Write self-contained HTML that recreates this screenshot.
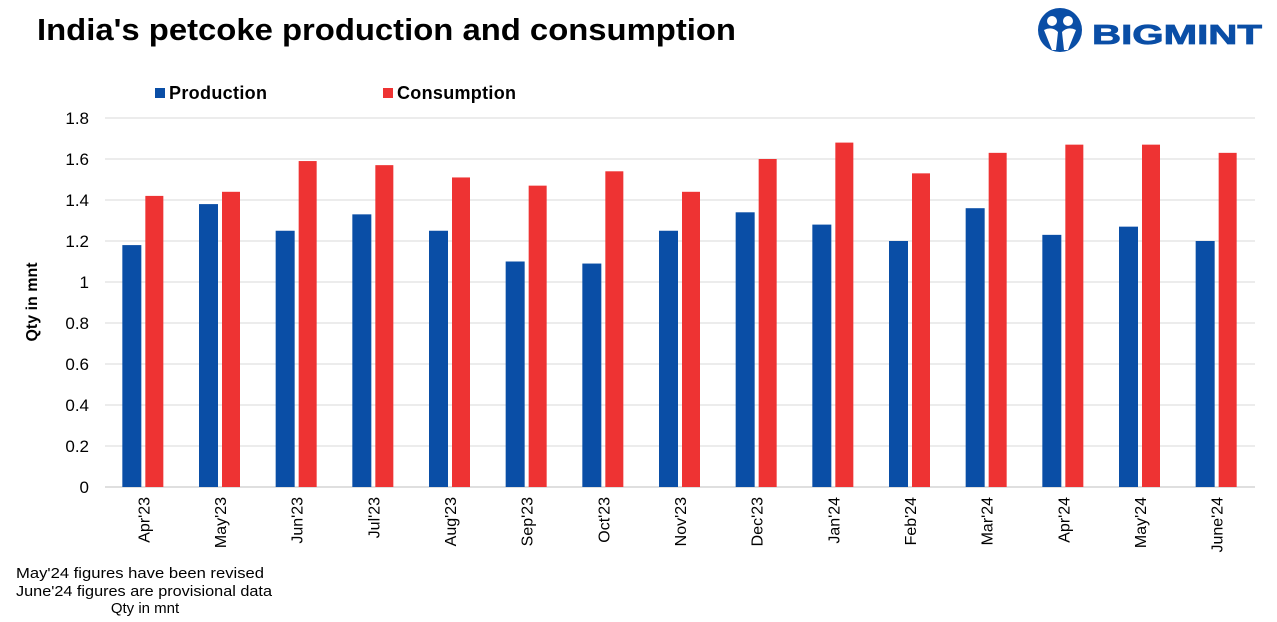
<!DOCTYPE html>
<html><head><meta charset="utf-8"><style>
body{margin:0;background:#fff;width:1277px;height:617px;overflow:hidden;font-family:"Liberation Sans",Arial,sans-serif}
</style></head><body>
<svg width="1277" height="617" xmlns="http://www.w3.org/2000/svg" font-family="Liberation Sans, Arial, sans-serif">
<text x="37" y="40" font-size="31" font-weight="bold" fill="#000" textLength="699" lengthAdjust="spacingAndGlyphs">India's petcoke production and consumption</text>
<g>
<circle cx="1060" cy="30" r="22" fill="#0a4ea6"/>
<circle cx="1052" cy="21" r="5" fill="#fff"/><circle cx="1068" cy="21" r="5" fill="#fff"/>
<path d="M1044 30 Q1052 26 1058 32 L1056 50 L1052 50 Z M1076 30 Q1068 26 1062 32 L1064 50 L1068 50 Z" fill="#fff"/>
<text x="1092" y="44" font-size="28" font-weight="900" fill="#0a4ea6" stroke="#0a4ea6" stroke-width="0.8" textLength="170" lengthAdjust="spacingAndGlyphs">BIGMINT</text>
</g>
<g>
<rect x="155" y="88" width="10" height="10" fill="#0a4ea6"/>
<text x="169" y="99" font-size="18" font-weight="bold" textLength="98">Production</text>
<rect x="383" y="88" width="10" height="10" fill="#ee3333"/>
<text x="397" y="99" font-size="18" font-weight="bold" textLength="119">Consumption</text>
</g>
<text transform="translate(37,302) rotate(-90)" text-anchor="middle" font-size="16" font-weight="bold">Qty in mnt</text>
<g id="grid"></g><g id="bars"></g><g id="labels"></g>
<g font-size="15" text-anchor="middle">
<text x="140" y="578" textLength="248" lengthAdjust="spacingAndGlyphs">May'24 figures have been revised</text>
<text x="144" y="596" textLength="256" lengthAdjust="spacingAndGlyphs">June'24 figures are provisional data</text>
<text x="145" y="613">Qty in mnt</text>
</g>
</svg>
<script>
const categories=["Apr'23","May'23","Jun'23","Jul'23","Aug'23","Sep'23","Oct'23","Nov'23","Dec'23","Jan'24","Feb'24","Mar'24","Apr'24","May'24","June'24"];
const production=[1.18,1.38,1.25,1.33,1.25,1.10,1.09,1.25,1.34,1.28,1.20,1.36,1.23,1.27,1.20];
const consumption=[1.42,1.44,1.59,1.57,1.51,1.47,1.54,1.44,1.60,1.68,1.53,1.63,1.67,1.67,1.63];
const yTicks=[0,0.2,0.4,0.6,0.8,1,1.2,1.4,1.6,1.8];
const NS="http://www.w3.org/2000/svg";
const x0=105,x1=1255,y0=487,yTop=118,yMax=1.8;
const bw=(x1-x0)/categories.length;
const y=v=>y0-(v/yMax)*(y0-yTop);
const xc=i=>x0+bw*(i+0.5);
function mk(t,a,p){const e=document.createElementNS(NS,t);for(const k in a)e.setAttribute(k,a[k]);p.appendChild(e);return e;}
const grid=document.getElementById('grid'),bars=document.getElementById('bars'),labels=document.getElementById('labels');
yTicks.forEach(v=>{
 const l=mk('line',{x1:x0,x2:x1,y1:y(v),y2:y(v),stroke:v===0?'#bfbfbf':'#d9d9d9','stroke-width':1},grid);
 
 
 const t=mk('text',{x:89,y:y(v)+6,'text-anchor':'end','font-size':17},grid);
 t.textContent=String(v);
 
 
});
categories.forEach((c,i)=>{
 const cx=xc(i);
 const p=mk('rect',{x:cx-21,y:y(production[i]),width:19,height:y0-y(production[i]),fill:'#0a4ea6'},bars);
 
 
 const q=mk('rect',{x:cx+2,y:y(consumption[i]),width:18,height:y0-y(consumption[i]),fill:'#ee3333'},bars);
 
 
 const t=mk('text',{transform:`translate(${cx+6},497) rotate(-90)`,'text-anchor':'end','font-size':16},labels);
 t.textContent=c;
 
 
});
</script>
</body></html>
